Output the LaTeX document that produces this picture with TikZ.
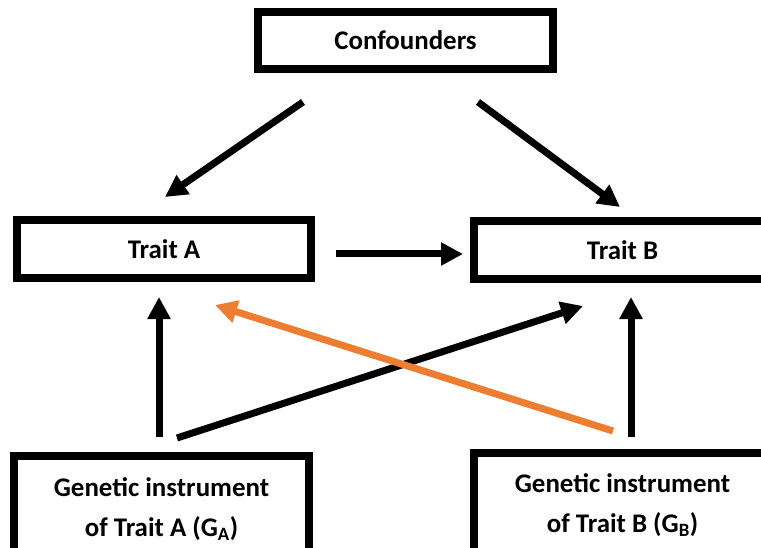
\documentclass[tikz,border=0pt]{standalone}
\usepackage{fontspec}
\setmainfont{Carlito}
\usetikzlibrary{arrows.meta}
\definecolor{orng}{HTML}{ED7D31}
\begin{document}
\begin{tikzpicture}[x=1bp,y=-1bp,
  box/.style={draw=black,line width=8bp,fill=white,inner sep=0pt,
    font=\fontsize{27}{41}\selectfont\bfseries,align=center},
  arr/.style={line width=7bp,-{Triangle[length=22bp,width=22bp]}}]
\useasboundingbox (0,0) rectangle (761,548);
\clip (0,0) rectangle (761,548);
\node[box,minimum width=295bp,minimum height=57bp] (conf) at (405.5,40.5) {Confounders};
\node[box,minimum width=294bp,minimum height=58bp] (ta) at (164,249) {Trait A};
\node[box,minimum width=297bp,minimum height=58bp] (tb) at (622.5,250) {Trait B};
\node[box,minimum width=295bp,minimum height=106bp] (ga) at (161.5,509) {Genetic instrument\\of Trait A (G\textsubscript{A})};
\node[box,minimum width=297bp,minimum height=104bp] (gb) at (622.5,505) {Genetic instrument\\of Trait B (G\textsubscript{B})};
\coordinate (c1s) at (303,102); \coordinate (c1e) at (165,197);
\coordinate (c2s) at (478,102); \coordinate (c2e) at (620,207);
\coordinate (abs) at (336,254); \coordinate (abe) at (463,254);
\coordinate (gas) at (159,437); \coordinate (gae) at (159,297);
\coordinate (gbs) at (631,437); \coordinate (gbe) at (631,297);
\coordinate (xs) at (177,438); \coordinate (xe) at (583,306);
\coordinate (os) at (613,431); \coordinate (oe) at (215,305);
\draw[arr] (c1s) -- (c1e);
\draw[arr] (c2s) -- (c2e);
\draw[arr] (abs) -- (abe);
\draw[arr] (gas) -- (gae);
\draw[arr] (gbs) -- (gbe);
\draw[arr] (xs) -- (xe);
\draw[arr,draw=orng,fill=orng] (os) -- (oe);
\end{tikzpicture}
\end{document}
